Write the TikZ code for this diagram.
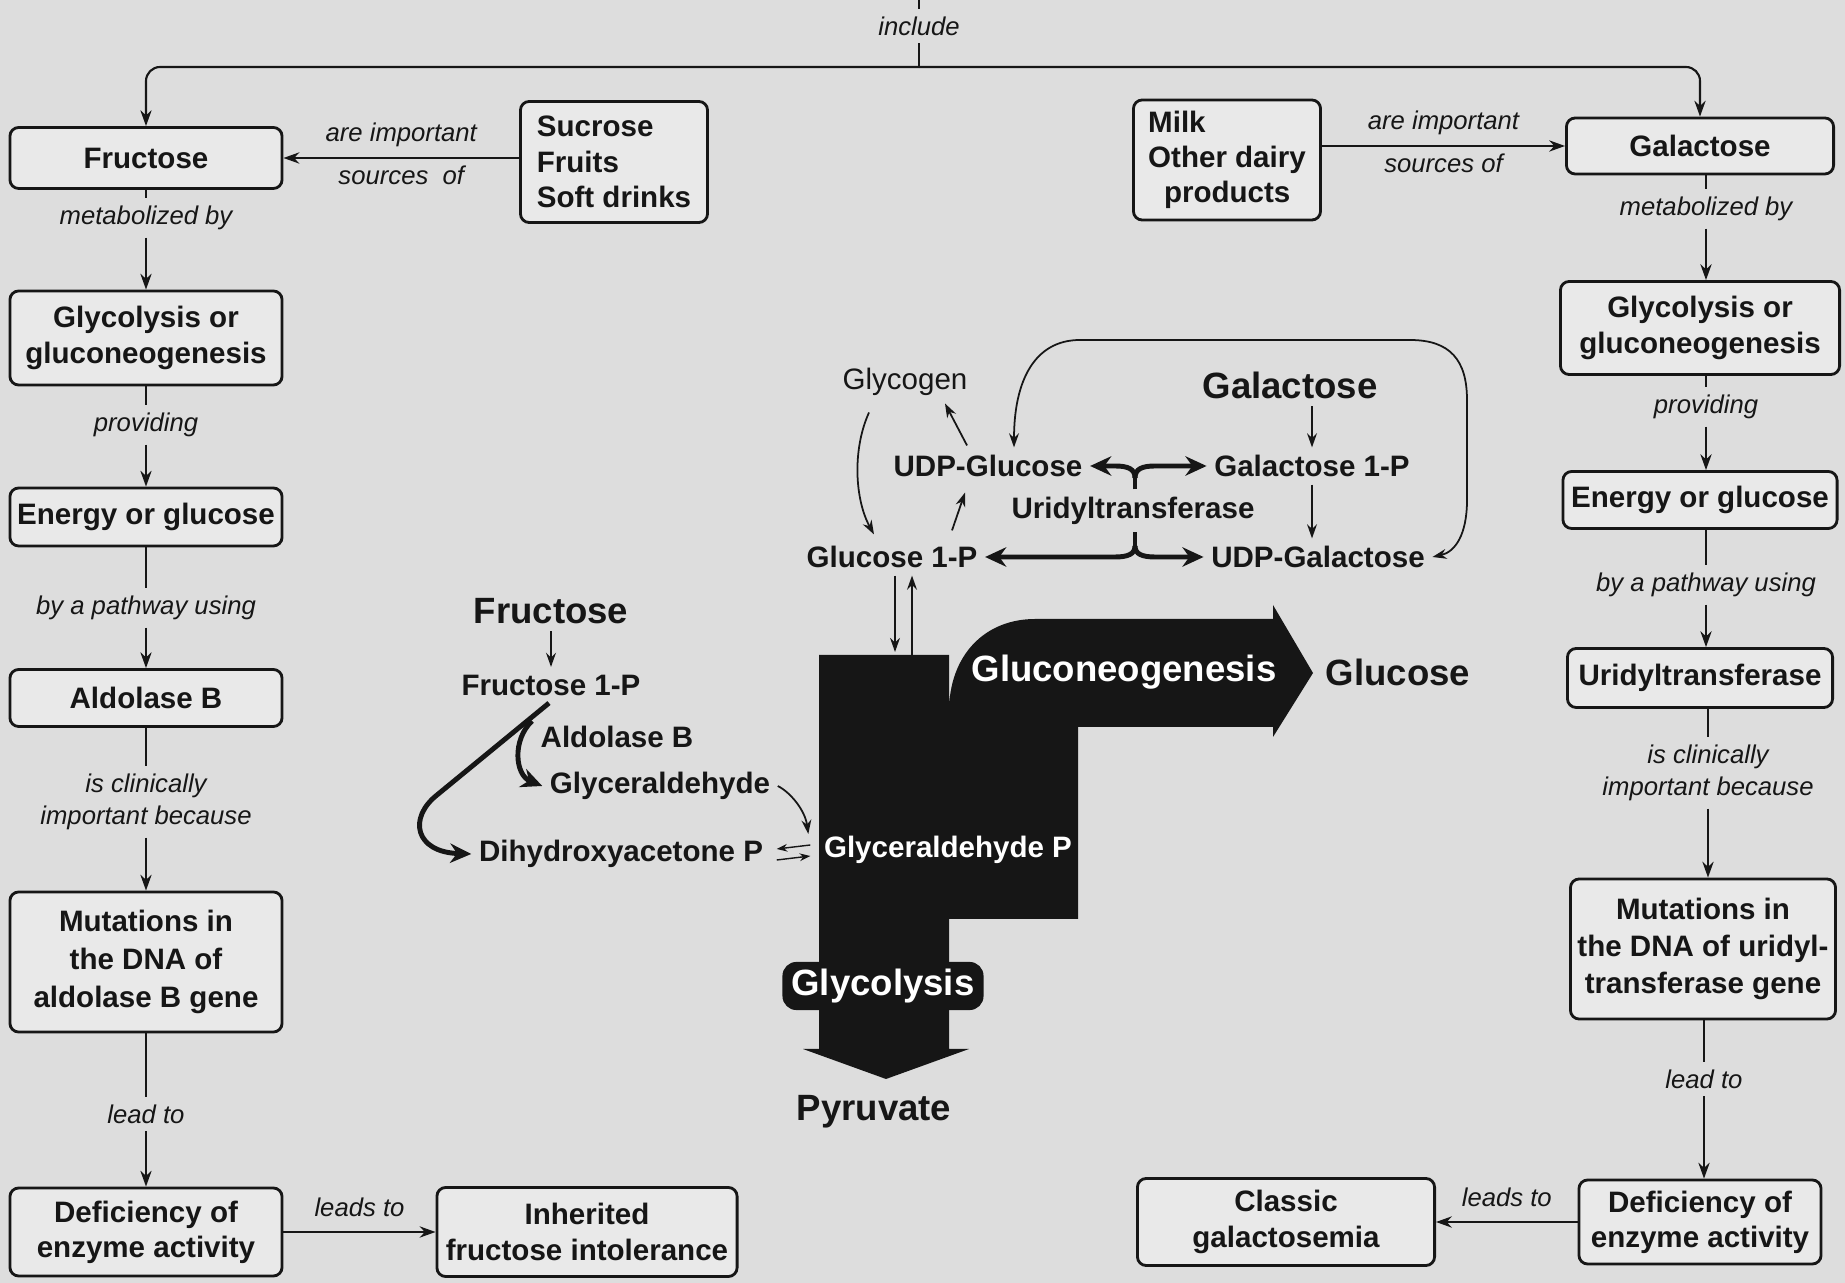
\documentclass[tikz,border=0pt]{standalone}
\usepackage{fontspec}
\setmainfont{Liberation Sans}
\usetikzlibrary{arrows.meta,calc}
\definecolor{paper}{RGB}{221,221,221}
\definecolor{boxfill}{RGB}{233,233,233}
\definecolor{ink}{RGB}{22,22,22}
\begin{document}
\begin{tikzpicture}[x=0.01cm, y=-0.01cm,
  box/.style={draw=ink, line width=0.8pt, rounded corners=2.5pt, fill=boxfill, align=center, text=ink, inner sep=2pt, font=\fontsize{8.4}{10}\selectfont\bfseries},
  lbl/.style={font=\fontsize{7.3}{9}\selectfont\itshape, align=center, inner sep=2pt, text=ink},
  txt/.style={font=\fontsize{8.4}{10}\selectfont\bfseries, inner sep=2pt, text=ink},
  plaintxt/.style={font=\fontsize{8.4}{10}\selectfont, inner sep=2pt, text=ink},
  bigtxt/.style={font=\fontsize{10.4}{12}\selectfont\bfseries, inner sep=2pt, text=ink},
  link/.style={draw=ink, line width=0.6pt},
  arr/.style={link, -{Stealth[length=4.5pt,width=3.2pt]}},
  fine/.style={draw=ink, line width=0.5pt, -{Stealth[length=4pt,width=2.8pt]}},
  tiny/.style={draw=ink, line width=0.4pt, -{Stealth[length=3pt,width=2.2pt]}},
  cycarrow/.style={draw=ink, line width=0.5pt, {Stealth[length=4pt,width=2.8pt]}-{Stealth[length=4pt,width=2.8pt]}},
  fat/.style={draw=ink, line width=1.4pt, -{Stealth[length=6pt,width=5.5pt]}},
  fatline/.style={draw=ink, line width=1.4pt}]
\useasboundingbox (0,0) rectangle (1845,1283);
\fill[paper] (0,0) rectangle (1845,1283);
\coordinate (topend) at (919,0);
\node[lbl] (incl) at (919,26) {include};
\coordinate (split) at (919,67);
\draw[link] (topend) -- (incl);
\draw[link] (incl) -- (split);
\node[box, minimum width=2.72cm, minimum height=0.61cm] (fru) at (146,158) {Fructose};
\node[lbl] (lmetab) at (146,218) {metabolized by};
\node[box, minimum width=2.72cm, minimum height=0.94cm] (lglyc) at (146,338) {Glycolysis or\\gluconeogenesis};
\node[lbl] (lprov) at (146,425) {providing};
\node[box, minimum width=2.72cm, minimum height=0.58cm] (leng) at (146,517) {Energy or glucose};
\node[lbl] (lpath) at (146,608) {by a pathway using};
\node[box, minimum width=2.72cm, minimum height=0.57cm] (ald) at (146,698) {Aldolase B};
\node[lbl] (lclin) at (146,802) {is clinically\\important because};
\node[box, minimum width=2.72cm, minimum height=1.40cm, font=\fontsize{8.4}{10.7}\selectfont\bfseries] (lmut) at (146,962) {Mutations in\\the DNA of\\aldolase B gene};
\node[lbl] (llead) at (146,1114) {lead to};
\node[box, minimum width=2.72cm, minimum height=0.88cm] (ldef) at (146,1232) {Deficiency of\\enzyme activity};
\node[box, minimum width=3.00cm, minimum height=0.89cm] (inh) at (587,1232) {Inherited\\fructose intolerance};
\node[box, align=left, minimum width=1.87cm, minimum height=1.21cm] (suc) at (614,162) {Sucrose\\Fruits\\Soft drinks};
\node[box, minimum width=2.67cm, minimum height=0.56cm] (gal) at (1700,146) {Galactose};
\node[lbl] (rmetab) at (1706,209) {metabolized by};
\node[box, minimum width=2.79cm, minimum height=0.93cm] (rglyc) at (1700,328) {Glycolysis or\\gluconeogenesis};
\node[lbl] (rprov) at (1706,407) {providing};
\node[box, minimum width=2.74cm, minimum height=0.57cm] (reng) at (1700,500) {Energy or glucose};
\node[lbl] (rpath) at (1706,585) {by a pathway using};
\node[box, minimum width=2.65cm, minimum height=0.59cm] (uri) at (1700,678) {Uridyltransferase};
\node[lbl] (rclin) at (1708,773) {is clinically\\important because};
\node[box, minimum width=2.57cm, minimum height=1.40cm, font=\fontsize{8.4}{10.4}\selectfont\bfseries] (rmut) at (1703,949) {Mutations in\\the DNA of uridyl-\\transferase gene};
\node[lbl] (rlead) at (1704,1079) {lead to};
\node[box, minimum width=2.42cm, minimum height=0.84cm] (rdef) at (1700,1222) {Deficiency of\\enzyme activity};
\node[box, minimum width=2.97cm, minimum height=0.87cm] (cls) at (1286,1222) {Classic\\galactosemia};
\node[box, align=left, minimum width=1.87cm, minimum height=1.20cm] (milk) at (1227,160) {Milk\\Other dairy\\\hspace*{4.5pt}products};
\draw[arr, rounded corners=4pt] (split) -| (fru);
\draw[arr, rounded corners=4pt] (split) -| (gal);
\draw[arr] (suc.west |- fru) -- (fru) node[midway, above, lbl, inner sep=3pt] {are important} node[midway, below, lbl] {sources\ \ of};
\draw[arr] (milk.east |- gal) -- (gal) node[midway, above, lbl, inner sep=3pt] {are important} node[midway, below, lbl] {sources of};
\draw[link] (fru) -- (lmetab);
\draw[arr] (lmetab) -- (lglyc);
\draw[link] (lglyc) -- (lprov);
\draw[arr] (lprov) -- (leng);
\draw[link] (leng) -- (lpath);
\draw[arr] (lpath) -- (ald);
\draw[link] (ald) -- (lclin);
\draw[arr] (lclin) -- (lmut);
\draw[link] (lmut) -- (llead);
\draw[arr] (llead) -- (ldef);
\draw[arr] (ldef) -- (inh) node[midway, above, lbl, inner sep=4pt] {leads to};
\draw[link] (gal.south -| rmetab) -- (rmetab);
\draw[arr] (rmetab) -- (rglyc.north -| rmetab);
\draw[link] (rglyc.south -| rprov) -- (rprov);
\draw[arr] (rprov) -- (reng.north -| rprov);
\draw[link] (reng.south -| rpath) -- (rpath);
\draw[arr] (rpath) -- (uri.north -| rpath);
\draw[link] (uri.south -| rclin) -- (rclin);
\draw[arr] (rclin) -- (rmut.north -| rclin);
\draw[link] (rmut.south -| rlead) -- (rlead);
\draw[arr] (rlead) -- (rdef.north -| rlead);
\draw[arr] (rdef) -- (cls) node[midway, above, lbl, inner sep=4pt] {leads to};
\fill[ink] (819,655) -- (949,655) -- (949,712) .. controls (949,655) and (985,619) .. (1035,619) -- (1273,619) -- (1273,605) -- (1313,673) -- (1273,737) -- (1273,727) -- (1078,727) -- (1078,919) -- (949,919) -- (949,1049) -- (969,1049) -- (886,1079) -- (803,1049) -- (819,1049) -- cycle;
\node[plaintxt] (glycogen) at (905,382) {Glycogen};
\node[bigtxt] (galc) at (1290,385) {Galactose};
\node[txt] (udpglc) at (988,466) {UDP-Glucose};
\node[txt] (gal1p) at (1312,466) {Galactose 1-P};
\node[txt] (uri2) at (1133,511) {Uridyltransferase};
\node[txt] (g1p) at (892,557) {Glucose 1-P};
\node[txt] (udpgal) at (1318,557) {UDP-Galactose};
\node[bigtxt, text=white] (gneo) at (1124,672) {Gluconeogenesis};
\node[bigtxt] (glc) at (1398,672) {Glucose};
\node[txt, text=white] (glyp) at (948,850) {Glyceraldehyde P};
\node[bigtxt, text=white, fill=ink, rounded corners=4pt, minimum width=2.01cm, minimum height=0.47cm] (glys) at (883,986) {Glycolysis};
\node[bigtxt] (pyr) at (874,1112) {Pyruvate};
\node[bigtxt] (fruc) at (551,611) {Fructose};
\node[txt] (f1p) at (551,685) {Fructose 1-P};
\node[txt] (aldc) at (617,737) {Aldolase B};
\node[txt] (gald) at (660,786) {Glyceraldehyde};
\node[txt] (dhap) at (621,854) {Dihydroxyacetone P};
\coordinate (ubr) at (1135,478);
\coordinate (lbr) at (1135,546);
\draw[fatline] (uri2.north -| ubr) -- (ubr);
\draw[fat] (ubr) .. controls (1135,469) and (1128,466) .. (1115,466) -- (udpglc.east);
\draw[fat] (ubr) .. controls (1135,469) and (1142,466) .. (1155,466) -- (gal1p.west);
\draw[fatline] (uri2.south -| lbr) -- (lbr);
\draw[fat] (lbr) .. controls (1135,554) and (1128,557) .. (1115,557) -- (g1p.east);
\draw[fat] (lbr) .. controls (1135,554) and (1142,557) .. (1155,557) -- (udpgal.west);
\draw[fine] (galc.south -| gal1p) -- (gal1p);
\draw[fine] (gal1p.south) -- (gal1p.south |- udpgal.north);
\draw[fine] ($(glycogen.south)+(-36,9)$) .. controls (852,450) and (855,500) .. ($(g1p.north)+(-18,-4)$);
\draw[fine] ($(udpglc.north)+(-21,-2)$) -- ($(glycogen.south)+(40,0)$);
\draw[fine] ($(g1p.north)+(60,-8)$) -- ($(udpglc.south)+(-23,8)$);
\draw[cycarrow] (udpgal.east) .. controls (1455,552) and (1467,535) .. (1467,500) -- (1467,400) .. controls (1467,360) and (1450,340) .. (1410,340) -- (1080,340) .. controls (1035,340) and (1014,380) .. ($(udpglc.north)+(26,0)$);
\coordinate (bardn) at (895,652);
\coordinate (barup) at (912,655);
\draw[fine] (g1p.south -| bardn) -- (bardn);
\draw[fine] (barup) -- (g1p.south -| barup);
\draw[fine] (fruc) -- (f1p);
\coordinate (fbend) at (437,795);
\coordinate (fsplit) at (532,721);
\draw[fat] ($(f1p.south)+(-2,0)$) -- (fbend) .. controls (408,818) and (415,852) .. (dhap.west);
\draw[fat] (fsplit) .. controls (512,740) and (515,775) .. (gald.west);
\draw[fine] (gald.east) .. controls (790,792) and (805,810) .. ($(glyp.west)+(-8,-16)$);
\draw[tiny] ($(glyp.west)+(-6,-5)$) -- ($(dhap.east)+(6,-5)$);
\draw[tiny] ($(dhap.east)+(6,6)$) -- ($(glyp.west)+(-6,6)$);
\end{tikzpicture}
\end{document}
